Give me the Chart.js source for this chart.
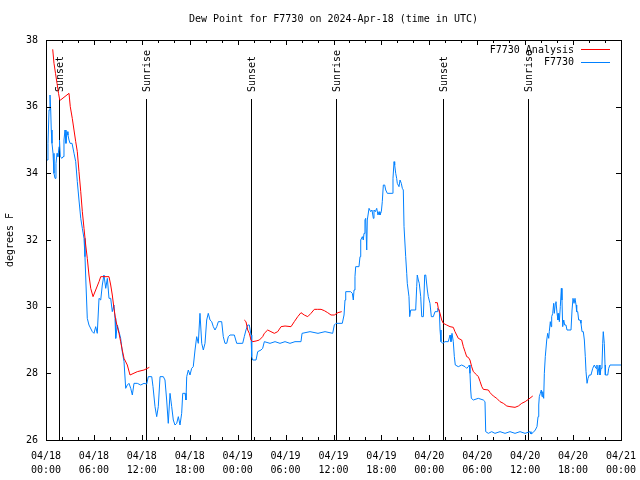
<!DOCTYPE html>
<html>
<head>
<meta charset="utf-8">
<script src="https://cdn.jsdelivr.net/npm/chart.js@4.4.1/dist/chart.umd.min.js"></script>
<style>
    html, body { margin: 0; padding: 0; background: #fff; }
</style>
</head>
<body>
<canvas id="graphique-dewpt" width="640" height="480"></canvas>
<script>
// heures depuis 2024-04-18 00:00 UTC
const obsHours = [0.13, 0.25, 0.38, 0.50, 0.59, 0.66, 0.75, 0.88, 1.00, 1.13, 1.25, 1.38, 1.50, 1.63, 1.69, 1.79, 2.00, 2.13, 2.25, 2.38, 2.50, 2.63, 2.75, 2.88, 3.01, 3.13, 3.26, 3.51, 3.72, 3.92, 4.13, 4.35, 4.55, 4.76, 4.88, 5.01, 5.17, 5.38, 5.80, 6.01, 6.22, 6.42, 6.64, 6.85, 7.05, 7.26, 7.48, 7.68, 7.89, 8.10, 8.30, 8.51, 8.64, 8.73, 8.93, 9.14, 9.35, 9.55, 9.77, 9.98, 10.18, 10.39, 10.61, 10.81, 11.02, 11.43, 11.86, 12.27, 12.61, 12.81, 13.24, 13.40, 13.65, 13.86, 14.06, 14.28, 14.69, 14.90, 15.11, 15.31, 15.53, 15.74, 15.94, 16.15, 16.37, 16.57, 16.78, 16.99, 17.12, 17.41, 17.53, 17.62, 17.82, 18.03, 18.24, 18.44, 18.66, 18.87, 19.07, 19.28, 19.50, 19.70, 19.91, 20.12, 20.32, 20.54, 20.75, 20.95, 21.16, 21.38, 21.58, 22.00, 22.20, 22.41, 22.63, 22.83, 23.04, 23.58, 23.88, 24.63, 24.83, 25.04, 25.26, 25.46, 25.67, 25.76, 25.88, 26.30, 26.51, 26.92, 27.13, 27.34, 28.05, 28.68, 29.30, 29.93, 30.55, 31.18, 31.93, 32.06, 33.06, 34.06, 34.94, 35.90, 36.10, 36.31, 37.10, 37.32, 37.44, 37.53, 38.15, 38.36, 38.48, 38.57, 38.69, 38.78, 39.19, 39.32, 39.41, 39.61, 39.73, 39.82, 39.94, 40.03, 40.16, 40.23, 40.45, 40.66, 40.82, 40.99, 41.07, 41.24, 41.41, 41.57, 41.70, 41.82, 41.99, 42.11, 42.24, 42.41, 42.54, 42.74, 43.36, 43.45, 43.58, 43.66, 43.79, 43.91, 43.99, 44.20, 44.33, 44.49, 44.62, 44.74, 44.83, 45.04, 45.17, 45.24, 45.45, 45.54, 45.67, 46.29, 46.42, 46.49, 46.62, 46.74, 46.92, 47.05, 47.25, 47.42, 47.55, 47.75, 47.87, 48.08, 48.25, 48.50, 48.71, 48.96, 49.05, 49.25, 49.34, 49.46, 49.67, 49.96, 50.37, 50.59, 50.71, 50.84, 51.00, 51.13, 51.25, 51.63, 52.05, 52.47, 52.68, 52.88, 53.01, 53.09, 53.18, 53.26, 53.51, 54.13, 54.76, 54.97, 55.06, 55.39, 55.81, 56.22, 56.85, 57.48, 58.10, 58.73, 59.36, 59.98, 60.61, 60.73, 60.98, 61.27, 61.48, 61.61, 61.70, 61.77, 61.90, 62.02, 62.11, 62.20, 62.32, 62.40, 62.52, 62.70, 62.82, 62.95, 63.02, 63.15, 63.24, 63.32, 63.45, 63.57, 63.65, 63.78, 63.86, 63.99, 64.11, 64.20, 64.28, 64.40, 64.53, 64.61, 64.70, 64.83, 64.95, 65.11, 65.24, 65.74, 65.87, 65.99, 66.12, 66.24, 66.37, 66.45, 66.58, 66.70, 66.87, 66.99, 67.12, 67.28, 67.41, 67.53, 67.62, 67.75, 67.87, 68.03, 68.24, 68.46, 68.66, 68.87, 68.99, 69.08, 69.28, 69.37, 69.50, 69.62, 69.71, 69.78, 69.91, 70.00, 70.04, 70.34, 70.46, 70.62, 72.00]
const obsDewpt = [34.4, 34.9, 35.9, 36.35, 35.9, 35.3, 34.9, 34.6, 34.0, 33.85, 34.3, 34.6, 34.5, 34.8, 35.0, 34.5, 34.45, 34.5, 35.0, 35.3, 34.9, 35.25, 35.15, 35.0, 34.9, 34.9, 34.9, 34.6, 34.35, 33.75, 33.2, 32.65, 32.35, 32.05, 31.5, 30.65, 29.65, 29.45, 29.25, 29.2, 29.4, 29.2, 30.25, 30.2, 30.65, 30.95, 30.55, 30.85, 30.25, 30.25, 29.85, 30.05, 29.65, 29.05, 29.45, 29.25, 29.05, 28.65, 28.35, 27.55, 27.65, 27.7, 27.55, 27.35, 27.7, 27.7, 27.65, 27.7, 27.68, 27.9, 27.9, 27.6, 27.0, 26.7, 27.0, 27.9, 27.9, 27.8, 27.2, 26.5, 27.4, 27.0, 26.6, 26.45, 26.5, 26.7, 26.45, 26.8, 27.4, 27.4, 27.2, 27.9, 28.1, 27.95, 28.15, 28.2, 28.7, 29.1, 28.9, 29.8, 28.9, 28.7, 28.9, 29.6, 29.8, 29.6, 29.55, 29.4, 29.3, 29.4, 29.55, 29.55, 29.1, 28.9, 28.9, 29.1, 29.15, 29.15, 28.9, 28.9, 29.1, 29.3, 29.45, 29.45, 29.15, 28.5, 28.4, 28.4, 28.65, 28.7, 28.75, 28.95, 28.9, 28.95, 28.9, 28.95, 28.9, 28.95, 28.95, 29.2, 29.25, 29.2, 29.25, 29.2, 29.45, 29.5, 29.5, 29.75, 30.2, 30.45, 30.45, 30.4, 30.2, 30.5, 30.9, 31.2, 31.2, 31.5, 32.0, 32.1, 32.0, 32.2, 32.6, 32.65, 31.7, 32.6, 32.95, 32.85, 32.9, 32.65, 32.9, 32.85, 32.95, 32.75, 32.85, 32.75, 32.85, 33.15, 33.65, 33.65, 33.5, 33.4, 33.4, 33.85, 34.35, 34.25, 34.0, 33.85, 33.7, 33.6, 33.8, 33.7, 33.55, 33.5, 32.4, 31.5, 31.0, 30.7, 30.3, 29.7, 29.9, 29.9, 30.6, 30.95, 30.8, 30.7, 30.3, 29.7, 29.7, 30.95, 30.95, 30.5, 30.3, 30.1, 29.7, 29.7, 29.85, 29.85, 29.95, 29.9, 29.3, 28.95, 28.9, 28.95, 28.95, 29.15, 28.95, 29.2, 28.95, 28.5, 28.25, 28.2, 28.25, 28.2, 28.15, 28.2, 28.25, 28.0, 27.5, 27.25, 27.2, 27.25, 27.2, 27.15, 26.25, 26.2, 26.25, 26.2, 26.25, 26.2, 26.25, 26.2, 26.25, 26.2, 26.25, 26.18, 26.22, 26.3, 26.4, 26.7, 27.05, 27.3, 27.4, 27.5, 27.3, 27.45, 27.25, 28.0, 28.5, 29.0, 29.2, 29.05, 29.25, 29.55, 29.4, 29.7, 29.8, 30.1, 29.8, 30.1, 30.15, 29.8, 29.6, 29.8, 29.55, 30.0, 30.55, 30.2, 29.4, 29.6, 29.45, 29.45, 29.3, 29.3, 29.9, 30.25, 30.1, 30.25, 30.05, 29.85, 29.85, 29.6, 29.6, 29.5, 29.25, 29.25, 29.0, 28.5, 28.05, 27.7, 27.85, 27.95, 27.95, 28.15, 28.25, 28.15, 28.25, 27.95, 28.25, 27.95, 28.15, 28.25, 28.9, 29.25, 28.9, 28.25, 27.95, 27.95, 28.15, 28.25, 28.25]

// analyse : trois morceaux séparés par null
const anaHours = [0.84, 1.00, 1.19, 1.38, 1.57, 1.72, 1.82, 2.88, 3.04, 3.29, 3.72, 3.92, 4.13, 4.35, 4.55, 4.76, 4.97, 5.17, 5.38, 5.60, 5.89, 6.22, 6.64, 6.85, 7.89, 8.10, 8.30, 8.51, 8.73, 8.93, 9.14, 9.35, 9.55, 9.77, 10.18, 10.52, 11.43, 12.27, 12.94,
    18.0,
    24.83, 25.04, 25.26, 25.46, 25.67, 25.88, 26.30, 26.72, 27.13, 27.34, 27.76, 28.17, 28.59, 29.01, 29.43, 29.93, 30.68, 31.09, 31.52, 31.93, 32.34, 32.77, 33.18, 33.60, 34.02, 34.44, 34.85, 35.27, 35.69, 36.10, 36.56, 37.03,
    42.0,
    48.71, 49.00, 49.12, 49.34, 49.55, 49.75, 50.17, 50.59, 51.00, 51.21, 51.42, 51.63, 52.05, 52.26, 52.47, 52.68, 52.88, 53.09, 53.30, 53.51, 53.94, 54.14, 54.36, 54.57, 54.76, 55.39, 55.60, 56.01, 56.44, 56.85, 57.27, 57.70, 58.10, 58.73, 59.15, 59.57, 60.00, 60.41, 60.95]
const anaDewpt = [37.72, 37.3, 37.0, 36.7, 36.4, 36.2, 36.2, 36.4, 36.0, 35.65, 34.95, 34.65, 34.05, 33.45, 32.85, 32.35, 31.85, 31.45, 30.95, 30.55, 30.3, 30.5, 30.75, 30.9, 30.9, 30.65, 30.35, 29.95, 29.6, 29.4, 29.2, 28.95, 28.7, 28.45, 28.25, 27.95, 28.05, 28.1, 28.18,
    null,
    29.6, 29.55, 29.3, 29.2, 29.0, 28.95, 28.97, 29.0, 29.1, 29.2, 29.3, 29.25, 29.2, 29.25, 29.4, 29.42, 29.4, 29.55, 29.7, 29.82, 29.75, 29.7, 29.8, 29.92, 29.92, 29.92, 29.88, 29.82, 29.75, 29.75, 29.82, 29.85,
    null,
    30.12, 30.12, 29.95, 29.8, 29.6, 29.5, 29.45, 29.4, 29.38, 29.25, 29.15, 29.05, 29.0, 28.8, 28.65, 28.5, 28.48, 28.4, 28.2, 28.05, 27.95, 27.9, 27.75, 27.6, 27.52, 27.5, 27.42, 27.32, 27.25, 27.15, 27.1, 27.02, 27.0, 26.98, 27.02, 27.1, 27.15, 27.22, 27.32]

const sunHours = [1.67, 12.48, 25.71, 36.35, 49.75, 60.40]
const sunLabels = ["Sunset", "Sunrise", "Sunset", "Sunrise", "Sunset", "Sunrise"]

const tickDays = ["04/18", "04/18", "04/18", "04/18", "04/19", "04/19", "04/19", "04/19", "04/20", "04/20", "04/20", "04/20", "04/21"]
const tickTimes = ["00:00", "06:00", "12:00", "18:00", "00:00", "06:00", "12:00", "18:00", "00:00", "06:00", "12:00", "18:00", "00:00"]

const titre = "Dew Point for F7730 on 2024-Apr-18 (time in UTC)"
const seriesNames = ["F7730 Analysis", "F7730"]
const seriesColors = ["#ff0000", "#0080ff"]

const FONT = "10px 'DejaVu Sans Mono', monospace"

// Décor façon gnuplot : cadre, graduations internes, lever/coucher, titre, légende
const gnuplotDecor = {
    id: "gnuplotDecor",
    beforeDatasetsDraw(chart) {
        const { ctx, chartArea: a, scales } = chart
        ctx.save()
        ctx.strokeStyle = "#000"
        ctx.lineWidth = 1
        // lignes lever / coucher
        ctx.beginPath()
        for (const h of sunHours) {
            const x = Math.round(scales.x.getPixelForValue(h)) + 0.5
            ctx.moveTo(x, a.bottom)
            ctx.lineTo(x, a.bottom - 0.8525 * (a.bottom - a.top))
        }
        ctx.stroke()
        ctx.fillStyle = "#000"
        ctx.font = FONT
        ctx.textAlign = "left"
        ctx.textBaseline = "middle"
        sunHours.forEach((h, i) => {
            const x = Math.round(scales.x.getPixelForValue(h)) + 1.5
            ctx.save()
            ctx.translate(x, a.bottom - 0.87 * (a.bottom - a.top))
            ctx.rotate(-Math.PI / 2)
            ctx.fillText(sunLabels[i], 0, 0)
            ctx.restore()
        })
        ctx.restore()
    },
    afterDraw(chart) {
        const { ctx, chartArea: a, scales } = chart
        ctx.save()
        ctx.strokeStyle = "#000"
        ctx.lineWidth = 1
        ctx.beginPath()
        // graduations x (majeures 6 h, mineures 2 h)
        for (let h = 0; h <= 72; h += 2) {
            const x = Math.round(scales.x.getPixelForValue(h)) + 0.5
            const len = h % 6 === 0 ? 5 : 3
            ctx.moveTo(x, a.bottom); ctx.lineTo(x, a.bottom - len)
            ctx.moveTo(x, a.top); ctx.lineTo(x, a.top + len)
        }
        // graduations y
        for (let v = 26; v <= 38; v += 2) {
            const y = Math.round(scales.y.getPixelForValue(v)) + 0.5
            ctx.moveTo(a.left, y); ctx.lineTo(a.left + 5, y)
            ctx.moveTo(a.right, y); ctx.lineTo(a.right - 5, y)
        }
        ctx.stroke()
        ctx.strokeRect(Math.round(a.left) + 0.5, Math.round(a.top) + 0.5,
            Math.round(a.right - a.left), Math.round(a.bottom - a.top))

        ctx.fillStyle = "#000"
        ctx.font = FONT
        // titre
        ctx.textAlign = "center"
        ctx.textBaseline = "middle"
        ctx.fillText(titre, (a.left + a.right) / 2, 19)
        // titre de l'axe y
        ctx.save()
        ctx.translate(10, 240)
        ctx.rotate(-Math.PI / 2)
        ctx.fillText("degrees F", 0, 0)
        ctx.restore()
        // légende
        ctx.textAlign = "right"
        seriesNames.forEach((name, i) => {
            const y = 50 + i * 12.5
            ctx.fillStyle = "#000"
            ctx.fillText(name, a.right - 47, y)
            ctx.strokeStyle = seriesColors[i]
            ctx.beginPath()
            ctx.moveTo(a.right - 40, Math.round(y) - 0.5)
            ctx.lineTo(a.right - 11, Math.round(y) - 0.5)
            ctx.stroke()
        })
        ctx.restore()
    }
}

const data = {
    datasets: [
        {
            label: seriesNames[0],
            data: anaHours.map((h, i) => ({ x: h, y: anaDewpt[i] })),
            borderColor: seriesColors[0],
            borderWidth: 1,
            pointRadius: 0,
            spanGaps: false,
            tension: 0,
        },
        {
            label: seriesNames[1],
            data: obsHours.map((h, i) => ({ x: h, y: obsDewpt[i] })),
            borderColor: seriesColors[1],
            borderWidth: 1,
            pointRadius: 0,
            tension: 0,
        },
    ],
}

const config = {
    type: "line",
    data: data,
    options: {
        responsive: false,
        animation: false,
        devicePixelRatio: 1,
        layout: { padding: { left: 0, right: 19, top: 40, bottom: 0 } },
        plugins: { legend: { display: false }, tooltip: { enabled: false } },
        scales: {
            x: {
                type: "linear",
                min: 0,
                max: 72,
                grid: { display: false, drawTicks: false },
                border: { display: false },
                afterFit: s => { s.height = 40; s.paddingLeft = 0; s.paddingRight = 0 },
                ticks: {
                    stepSize: 6,
                    autoSkip: false,
                    maxRotation: 0,
                    padding: 9,
                    color: "#000",
                    font: { family: "'DejaVu Sans Mono', monospace", size: 10, lineHeight: 1.4 },
                    callback: v => [tickDays[v / 6], tickTimes[v / 6]],
                },
            },
            y: {
                min: 26,
                max: 38,
                grid: { display: false, drawTicks: false },
                border: { display: false },
                afterFit: s => { s.width = 46 },
                ticks: {
                    stepSize: 2,
                    padding: 8,
                    color: "#000",
                    font: { family: "'DejaVu Sans Mono', monospace", size: 10 },
                },
            },
        },
    },
    plugins: [gnuplotDecor],
}

new Chart(document.querySelector("#graphique-dewpt"), config)
</script>
</body>
</html>
